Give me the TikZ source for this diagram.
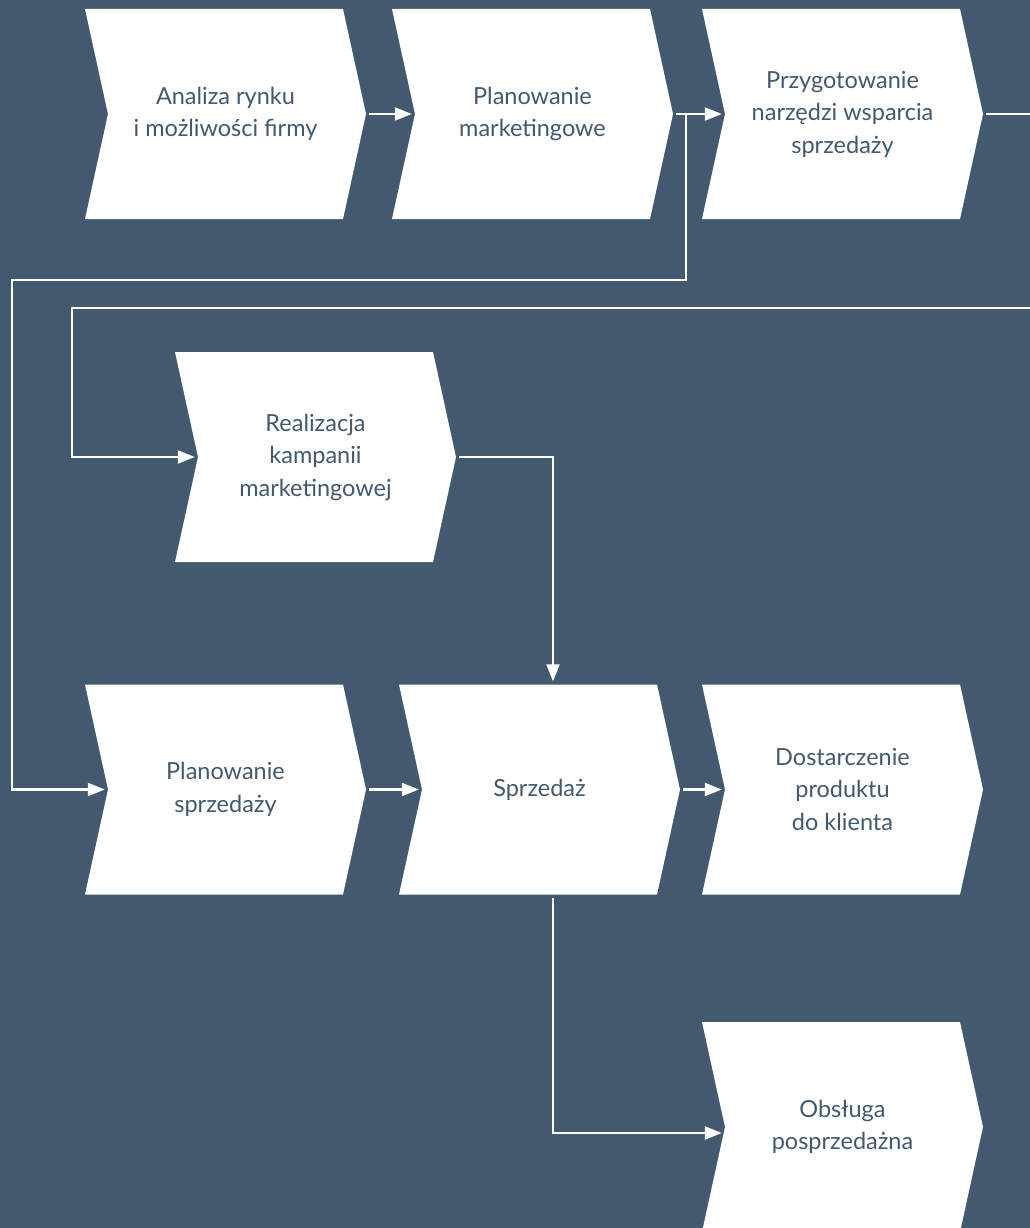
\documentclass[tikz,border=0pt]{standalone}
\usepackage{fontspec}
\setmainfont{Lato}
\usetikzlibrary{arrows.meta}
\definecolor{bgc}{RGB}{66,89,111}
\definecolor{txc}{RGB}{66,89,111}
\tikzset{
  chev/.style={minimum width=281pt, minimum height=210pt, inner sep=0pt,
    align=center, text=txc, font=\fontsize{23.5}{32.5}\selectfont,
    path picture={\fill[white] (path picture bounding box.north west)
      -- ([xshift=-23pt]path picture bounding box.north east)
      -- (path picture bounding box.east)
      -- ([xshift=-23pt]path picture bounding box.south east)
      -- (path picture bounding box.south west)
      -- ([xshift=23pt]path picture bounding box.west) -- cycle;}},
  conn/.style={draw=white, line width=2.2pt},
  arr/.style={conn, -{Triangle[length=17pt,width=13pt]}, shorten >=3pt},
}
\begin{document}
\begin{tikzpicture}[x=1pt,y=-1pt]
\fill[bgc] (0,0) rectangle (1030,1228);
\useasboundingbox (0,0) rectangle (1030,1228);
\clip (0,0) rectangle (1030,1228);
% nodes
\node[chev] (a) at (225.5,114) {Analiza rynku\\i możliwości firmy};
\node[chev] (b) at (532.5,114) {Planowanie\\marketingowe};
\node[chev] (c) at (842.5,114) {Przygotowanie\\narzędzi wsparcia\\sprzedaży};
\node[chev] (r) at (315.5,457) {Realizacja\\kampanii\\marketingowej};
\node[chev] (p) at (225.5,789.5) {Planowanie\\sprzedaży};
\node[chev] (s) at (539.5,789.5) {Sprzedaż};
\node[chev] (d) at (842.5,789.5) {Dostarczenie\\produktu\\do klienta};
\node[chev] (o) at (842.5,1127) {Obsługa\\posprzedażna};
% helper coordinates
\coordinate (j1) at (686,114);
\coordinate (k1) at (12,280);
\coordinate (e1) at (1030,114);
\coordinate (e2) at (1030,308);
\coordinate (k2) at (72,308);
% connectors
\draw[arr] ([xshift=3pt]a.east) -- ([xshift=23pt]b.west);
\draw[arr] ([xshift=3pt]b.east) -- ([xshift=23pt]c.west);
\draw[arr] (j1) |- (k1) |- ([xshift=23pt]p.west);
\draw[conn] ([xshift=3pt]c.east) -- (e1);
\draw[arr] (e2) -- (k2) |- ([xshift=23pt]r.west);
\draw[arr] ([xshift=3pt]r.east) -| ([xshift=13.5pt]s.north);
\draw[arr] ([xshift=3pt]p.east) -- ([xshift=23pt]s.west);
\draw[arr] ([xshift=3pt]s.east) -- ([xshift=23pt]d.west);
\draw[arr] ([xshift=13.5pt,yshift=-3pt]s.south) |- ([xshift=23pt,yshift=-6pt]o.west);
\end{tikzpicture}
\end{document}
